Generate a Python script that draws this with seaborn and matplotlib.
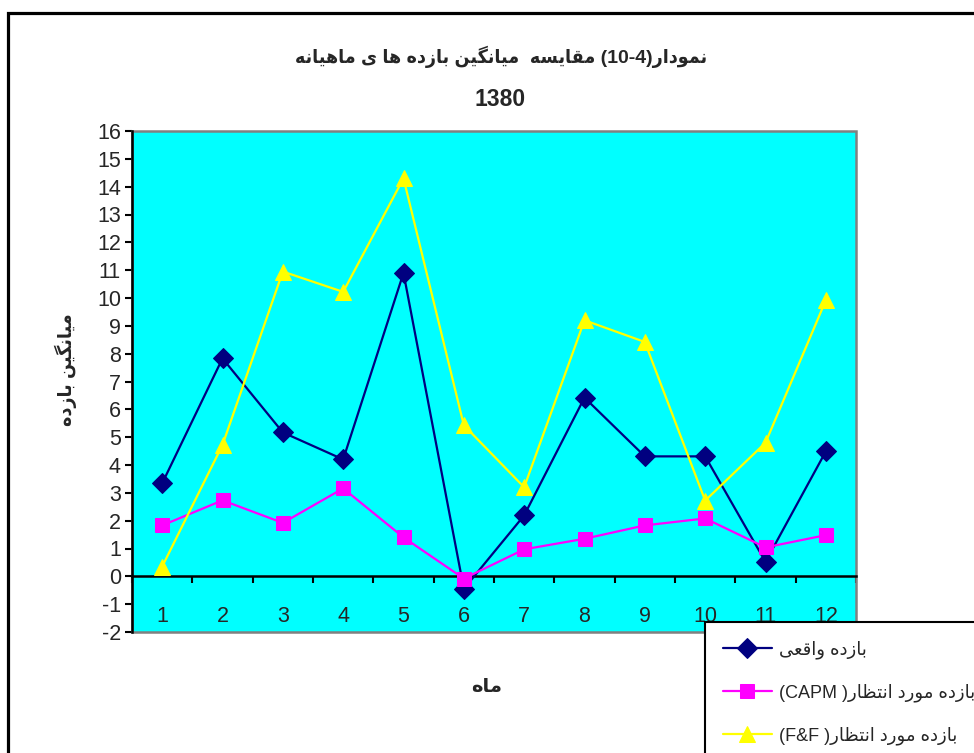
import matplotlib
matplotlib.use("Agg")
import matplotlib.pyplot as plt
import seaborn as sns
import pandas as pd
from matplotlib.patches import Rectangle

# ---------------- data ----------------
months = list(range(1, 13))
actual = [3.34, 7.83, 5.17, 4.20, 10.90, -0.45, 2.19, 6.42, 4.31, 4.31, 0.52, 4.49]
capm = [1.83, 2.73, 1.92, 3.16, 1.40, -0.08, 0.97, 1.35, 1.83, 2.08, 1.04, 1.48]
ff = [0.35, 4.72, 10.95, 10.22, 14.30, 5.43, 3.20, 9.20, 8.42, 2.72, 4.80, 9.92]
yticks = list(range(-2, 17))
month_labels = [str(m) for m in months]

title_fa = "مقایسه  میانگین بازده ها ی ماهیانه"
title_head = "نمودار"
title_num = "(10-4)"
title_year = "1380"
ylabel_fa = "میانگین بازده"
xlabel_fa = "ماه"
leg_actual = "بازده واقعی"
leg_expected = "بازده مورد انتظار"

# ------------- minimal Persian shaping (presentation forms, visual order) -------------
FORMS = {
    "ا": ("\uFE8D", "\uFE8E", None, None),
    "ب": ("\uFE8F", "\uFE90", "\uFE91", "\uFE92"),
    "ت": ("\uFE95", "\uFE96", "\uFE97", "\uFE98"),
    "د": ("\uFEA9", "\uFEAA", None, None),
    "ر": ("\uFEAD", "\uFEAE", None, None),
    "ز": ("\uFEAF", "\uFEB0", None, None),
    "س": ("\uFEB1", "\uFEB2", "\uFEB3", "\uFEB4"),
    "ظ": ("\uFEC5", "\uFEC6", "\uFEC7", "\uFEC8"),
    "ع": ("\uFEC9", "\uFECA", "\uFECB", "\uFECC"),
    "ق": ("\uFED5", "\uFED6", "\uFED7", "\uFED8"),
    "م": ("\uFEE1", "\uFEE2", "\uFEE3", "\uFEE4"),
    "ن": ("\uFEE5", "\uFEE6", "\uFEE7", "\uFEE8"),
    "ه": ("\uFEE9", "\uFEEA", "\uFEEB", "\uFEEC"),
    "و": ("\uFEED", "\uFEEE", None, None),
    "ی": ("\uFEEF", "\uFEF0", "\uFEF3", "\uFEF4"),
    "گ": ("\uFB92", "\uFB93", "\uFB94", "\uFB95"),
}


def shape_rtl(text):
    out = []
    n = len(text)
    for i, ch in enumerate(text):
        if ch not in FORMS:
            out.append(ch)
            continue
        iso, fin, ini, med = FORMS[ch]
        prev = text[i - 1] if i > 0 else ""
        nxt = text[i + 1] if i < n - 1 else ""
        jp = prev in FORMS and FORMS[prev][2] is not None
        jn = ini is not None and nxt in FORMS
        if jp and jn:
            f = med
        elif jp:
            f = fin
        elif jn:
            f = ini
        else:
            f = iso
        out.append(f)
    return "".join(reversed(out))


title_line1 = shape_rtl(title_fa) + " " + title_num + shape_rtl(title_head)
lab_actual = shape_rtl(leg_actual)
lab_capm = "(CAPM )" + shape_rtl(leg_expected)
lab_ff = "(F&F )" + shape_rtl(leg_expected)

df = pd.DataFrame({"month": months, "actual": actual, "capm": capm, "ff": ff})

# ---------------- style ----------------
sns.set_style("white")
plt.rcParams["font.family"] = ["Liberation Sans", "DejaVu Sans"]
fams = ["Liberation Sans", "DejaVu Sans"]

fig = plt.figure(figsize=(9.74, 7.53), dpi=100)
fig.patch.set_facecolor("white")
ax = fig.add_axes([132 / 974, 1 - 632 / 753, (856 - 132) / 974, (632 - 131) / 753])
ax.set_facecolor("#00FFFF")

NAVY = "#000080"
MAG = "#FF00FF"
YEL = "#FFFF00"

sns.lineplot(data=df, x="month", y="actual", ax=ax, color=NAVY, linewidth=1.6,
             marker="D", markersize=10, markeredgecolor=NAVY, markerfacecolor=NAVY,
             label=lab_actual, zorder=3)
sns.lineplot(data=df, x="month", y="capm", ax=ax, color=MAG, linewidth=1.6,
             marker="s", markersize=10, markeredgecolor=MAG, markerfacecolor=MAG,
             label=lab_capm, zorder=4)
sns.lineplot(data=df, x="month", y="ff", ax=ax, color=YEL, linewidth=1.6,
             marker="^", markersize=11.5, markeredgecolor=YEL, markerfacecolor=YEL,
             label=lab_ff, zorder=5)

ax.set_xlim(0.5, 12.5)
ax.set_ylim(-2, 16)
ax.set_xlabel("")
ax.set_ylabel("")

# y axis
ax.set_yticks(yticks)
ax.set_yticklabels([str(t) for t in yticks])
ax.tick_params(axis="y", direction="out", length=5, width=1.5, color="black",
               labelsize=15.5, pad=3, left=True)

# x axis crossing at zero
ax.spines["bottom"].set_position(("data", 0))
ax.spines["bottom"].set_color("black")
ax.spines["bottom"].set_linewidth(1.8)
ax.spines["bottom"].set_zorder(2.5)
ax.spines["left"].set_color("black")
ax.spines["left"].set_linewidth(1.8)
ax.spines["left"].set_zorder(6)
ax.spines["top"].set_visible(False)
ax.spines["right"].set_visible(False)
ax.add_patch(Rectangle((0, 0), 1, 1, transform=ax.transAxes, fill=False,
                       edgecolor="#808080", linewidth=1.8, clip_on=False, zorder=2))

ax.set_xticks([m - 0.5 for m in months] + [12.5])
ax.set_xticklabels([])
ax.set_xticks(months, minor=True)
ax.set_xticklabels(month_labels, minor=True)
ax.tick_params(axis="x", which="major", direction="out", length=5, width=1.5,
               color="black", bottom=True)
ax.tick_params(axis="x", which="minor", length=0, pad=21.5, labelsize=15.5, bottom=True)

# titles / labels
fig.text(501 / 974, 1 - 57 / 753, title_line1, ha="center", va="center",
         fontsize=14, fontweight="bold", fontstretch="condensed", family=fams)
fig.text(500 / 974, 1 - 100 / 753, title_year, ha="center", va="center",
         fontsize=16.5, fontweight="bold", family=fams)
fig.text(66 / 974, 1 - 370 / 753, shape_rtl(ylabel_fa), ha="center", va="center",
         rotation=90, fontsize=14, fontweight="bold", fontstretch="condensed", family=fams)
fig.text(487 / 974, 1 - 688 / 753, shape_rtl(xlabel_fa), ha="center", va="center",
         fontsize=14, fontweight="bold", family=fams)

# legend
handles, labels = ax.get_legend_handles_labels()
leg = ax.legend(handles, labels, loc="upper left",
                bbox_to_anchor=(705 / 974, 1 - 622 / 753), bbox_transform=fig.transFigure,
                frameon=True, fancybox=False, shadow=False, borderaxespad=0,
                borderpad=1.0, handlelength=2.7, handletextpad=0.4, labelspacing=1.35,
                prop={"family": fams, "size": 13})
leg.get_frame().set_edgecolor("black")
leg.get_frame().set_linewidth(1.5)
leg.get_frame().set_facecolor("white")
leg.get_frame().set_alpha(1)
leg.set_zorder(10)

# outer chart border
fig.patches.append(Rectangle((8 / 974, -0.1), 1.2, 1.1 - 13.5 / 753,
                             transform=fig.transFigure, fill=False,
                             edgecolor="black", linewidth=2.3))

fig.savefig("out.png", dpi=100)
